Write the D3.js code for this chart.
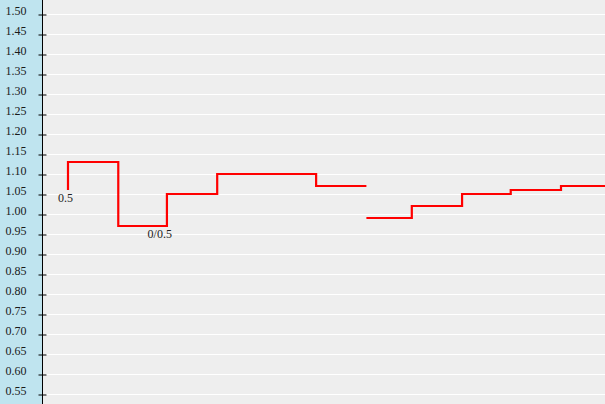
<!DOCTYPE html>
<html>
<head>
<meta charset="utf-8">
<script src="https://cdn.jsdelivr.net/npm/d3@7"></script>
<style>
html,body{margin:0;padding:0;background:#eeeeee;}
svg{display:block;}
</style>
</head>
<body>
<svg id="chart" width="605" height="404"></svg>
<script>
// ---- data ----
const dates = ["2009-08-01","2009-09-01","2009-10-01","2009-11-01","2009-12-01","2010-01-01",
               "2010-02-01","2010-03-01","2010-04-01","2010-05-01","2010-06-01","2010-07-01"];
const seriesA = [1.06, 1.13, 0.97, 1.05, 1.10, 1.10, 1.07, null, null, null, null, null];
const seriesB = [null, null, null, null, null, null, 0.99, 0.99, 1.02, 1.05, 1.06, 1.07];
const yTicks = [0.55,0.60,0.65,0.70,0.75,0.80,0.85,0.90,0.95,1.00,1.05,1.10,1.15,1.20,1.25,1.30,1.35,1.40,1.45,1.50];
const annotations = [
  {date: "2009-08-01", value: 1.06, text: "0.5"},
  {date: "2009-10-01", value: 0.97, text: "0/0.5"}
];

// ---- layout ----
const W = 605, H = 404;
const axisX = 42;
const parse = d3.utcParse("%Y-%m-%d");

const svg = d3.select("#chart");

const x = d3.scaleUtc()
  .domain([parse("2009-08-01"), parse("2010-06-01")])
  .range([68, 561]);
const y = d3.scaleLinear().domain([0.525, 1.535]).range([H, 0]);

// backgrounds
svg.append("rect").attr("x", 0).attr("y", 0).attr("width", axisX).attr("height", H).attr("fill", "#bfe4ef");
svg.append("rect").attr("x", axisX).attr("y", 0).attr("width", W - axisX).attr("height", H).attr("fill", "#eeeeee");

// gridlines
svg.append("g").selectAll("line").data(yTicks).join("line")
  .attr("x1", axisX + 4).attr("x2", W)
  .attr("y1", d => Math.round(y(d)) + 0.5).attr("y2", d => Math.round(y(d)) + 0.5)
  .attr("stroke", "#ffffff").attr("stroke-width", 1);

// axis
const axis = d3.axisLeft(y).tickValues(yTicks).tickFormat(d3.format(".2f")).tickSize(0);
const gAxis = svg.append("g").attr("transform", `translate(${axisX + 0.5},0)`).call(axis);
gAxis.select(".domain").remove();
gAxis.selectAll(".tick line").remove();
gAxis.selectAll(".tick").append("line")
  .attr("x1", -4).attr("x2", 4).attr("y1", 0.5).attr("y2", 0.5)
  .attr("stroke", "#000").attr("stroke-width", 1);
gAxis.append("line").attr("x1", 0).attr("x2", 0).attr("y1", 0).attr("y2", H)
  .attr("stroke", "#000").attr("stroke-width", 1);
gAxis.selectAll(".tick text")
  .attr("x", -16).attr("dy", "0.32em").attr("y", -3)
  .attr("font-family", "'Liberation Serif', 'Times New Roman', serif")
  .attr("font-size", 12).attr("fill", "#1a1a1a");

// clip
svg.append("clipPath").attr("id", "plotclip").append("rect")
  .attr("x", axisX + 1).attr("y", 0).attr("width", W - axisX - 1).attr("height", H);

const plot = svg.append("g").attr("clip-path", "url(#plotclip)");

function drawSeries(vals) {
  const pts = dates.map((d, i) => ({date: parse(d), value: vals[i]}));
  const line = d3.line()
    .defined(d => d.value != null)
    .x(d => x(d.date))
    .y(d => y(d.value))
    .curve(d3.curveStepBefore);
  plot.append("path").datum(pts)
    .attr("d", line)
    .attr("fill", "none")
    .attr("stroke", "#ff0000")
    .attr("stroke-width", 2.2);
}
drawSeries(seriesA);
drawSeries(seriesB);

// annotations
plot.selectAll("text.ann").data(annotations).join("text")
  .attr("class", "ann")
  .attr("x", d => x(parse(d.date)) + 5)
  .attr("y", d => y(d.value) + 12)
  .attr("text-anchor", "end")
  .attr("font-family", "'Liberation Serif', 'Times New Roman', serif")
  .attr("font-size", 12)
  .attr("fill", "#222")
  .text(d => d.text);
</script>
</body>
</html>
